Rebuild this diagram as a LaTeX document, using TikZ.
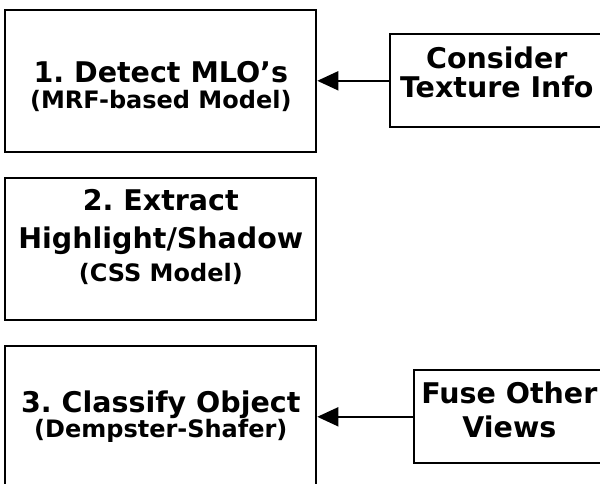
\documentclass[tikz,border=0pt]{standalone}
\usepackage{fontspec}
\setmainfont{DejaVu Sans}
\usetikzlibrary{arrows.meta,positioning}

\newcommand{\smalltxt}{\fontsize{24}{28}\selectfont}
\frenchspacing

\begin{document}
\begin{tikzpicture}[x=1pt,y=-1pt,>={Triangle[length=21pt,width=19pt]},node distance=24pt,line width=2pt]
    \tikzstyle{every node}=[font=\bfseries\fontsize{28.5}{38}\selectfont,align=center,text depth=0pt]
    \tikzstyle{stage}=[draw,minimum width=311pt,minimum height=142pt,inner sep=0pt]
    \tikzstyle{extra}=[draw,minimum height=93pt,inner sep=0pt]
    \tikzstyle{flow}=[->,line width=1.7pt]
    \useasboundingbox (0,0) rectangle (600,483);

    % the three stages, top to bottom
    \node[stage,text height=56pt] (detect) at (160.8,80.8) {1. Detect MLO’s\\[-12pt]{\smalltxt (MRF-based Model)}};
    \node[stage,text height=66pt] (extract)[below=of detect] {2. Extract\\Highlight/Shadow\\[-5pt]{\smalltxt (CSS Model)}};
    \node[stage,text height=41pt] (classify)[below=of extract] {3. Classify Object\\[-13pt]{\smalltxt (Dempster-Shafer)}};

    % extra inputs on the right
    \node[extra,minimum width=213pt,text height=33pt] (texture)[right=72pt of detect] {Consider\\[-9pt]Texture Info};
    \node[extra,minimum width=190pt,text height=42pt] (fuse)[right=96pt of classify] {Fuse Other\\[-4pt]Views};

    \draw[flow] (texture) -- (detect);
    \draw[flow] (fuse) -- (classify);
\end{tikzpicture}
\end{document}
